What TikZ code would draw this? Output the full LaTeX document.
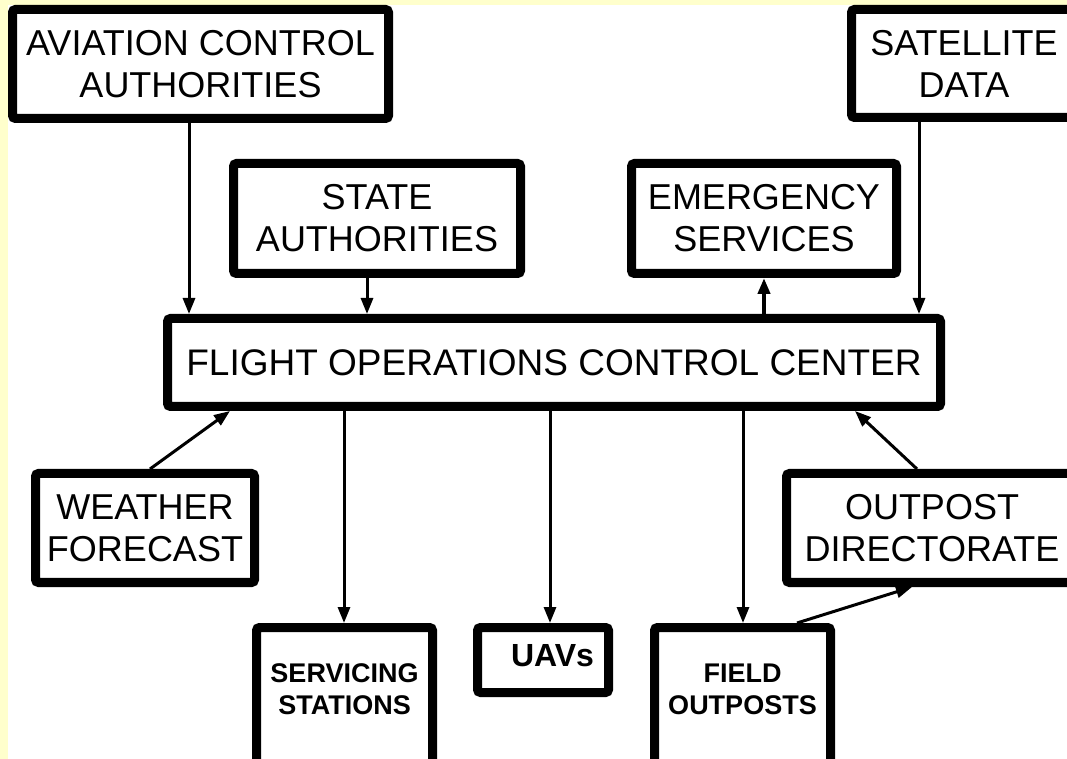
\documentclass[tikz,border=0pt]{standalone}
\usepackage{fontspec}
\setmainfont{Liberation Sans}
\usetikzlibrary{arrows.meta}
\definecolor{fondjaune}{RGB}{255,255,204}

\begin{document}
\begin{tikzpicture}[x=0.5pt, y=-0.5pt, >={Triangle[length=8pt,width=6pt]},
  boite/.style={draw=black, line width=4.5pt, rounded corners=1.5pt, fill=white,
    align=center, inner sep=0pt, font=\fontsize{18}{21}\selectfont},
  petite/.style={boite, font=\bfseries\fontsize{13.5}{16}\selectfont},
  fleche/.style={->, line width=1.5pt}]

% Le fond
\useasboundingbox (0,0) rectangle (1067,759);
\clip (0,0) rectangle (1067,759);
\fill[fondjaune] (0,0) rectangle (1067,759);
\fill[white] (8,5) rectangle (1067,759);

% Les boites du haut
\node[boite, minimum width=188pt, minimum height=54.5pt, text depth=-3pt] (aviation) at (200.5,64) {AVIATION CONTROL\\AUTHORITIES};
\node[boite, minimum width=143.5pt, minimum height=55pt] (etat) at (377,218.5) {STATE\\AUTHORITIES};
\node[boite, minimum width=132.5pt, minimum height=55pt] (urgence) at (764,218.5) {EMERGENCY\\SERVICES};
\node[boite, minimum width=112.5pt, minimum height=54pt] (satellite) at (964,63.5) {SATELLITE\\DATA};

% Le centre de controle
\node[boite, minimum width=386.5pt, minimum height=44pt, font=\fontsize{18.5}{21}\selectfont] (centre) at (554,362.5) {FLIGHT OPERATIONS CONTROL CENTER};

% Les boites du milieu
\node[boite, minimum width=109.5pt, minimum height=54.5pt] (meteo) at (145,528) {WEATHER\\FORECAST};
\node[boite, minimum width=145.5pt, minimum height=54.5pt] (direction) at (932,528) {OUTPOST\\DIRECTORATE};

% Les boites du bas
\node[petite, minimum width=88pt, minimum height=69pt, text depth=7pt] (stations) at (344.5,696.5) {SERVICING\\STATIONS};
\node[petite, minimum width=65.5pt, minimum height=32.5pt, text width=51pt, align=right, text depth=5pt,
  font=\bfseries\fontsize{16}{19}\selectfont] (drones) at (543,660) {UAVs};
\node[petite, minimum width=88pt, minimum height=69pt, text depth=7pt] (postes) at (742.5,696.5) {FIELD\\OUTPOSTS};

% Les fleches vers le centre
\draw[fleche] (aviation.south -| 189,0) -- (centre.north -| 189,0);
\draw[fleche] (etat.south -| 367,0) -- (centre.north -| 367,0);
\draw[fleche] (satellite.south -| 919,0) -- (centre.north -| 919,0);
\draw[fleche] (meteo.north -| 150,0) -- (centre.south -| 230,0);
\draw[fleche] (direction.north -| 917,0) -- (centre.south -| 855,0);

% Les fleches qui partent du centre
\draw[fleche, line width=2pt] (centre.north -| urgence.south) -- (urgence.south);
\draw[fleche] (centre.south -| 344,0) -- (stations.north -| 344,0);
\draw[fleche] (centre.south -| 550,0) -- (drones.north -| 550,0);
\draw[fleche] (centre.south -| 743,0) -- (postes.north -| 743,0);
\draw[fleche] (postes.north -| 797,0) -- (direction.south -| 912,0);

\end{tikzpicture}
\end{document}
